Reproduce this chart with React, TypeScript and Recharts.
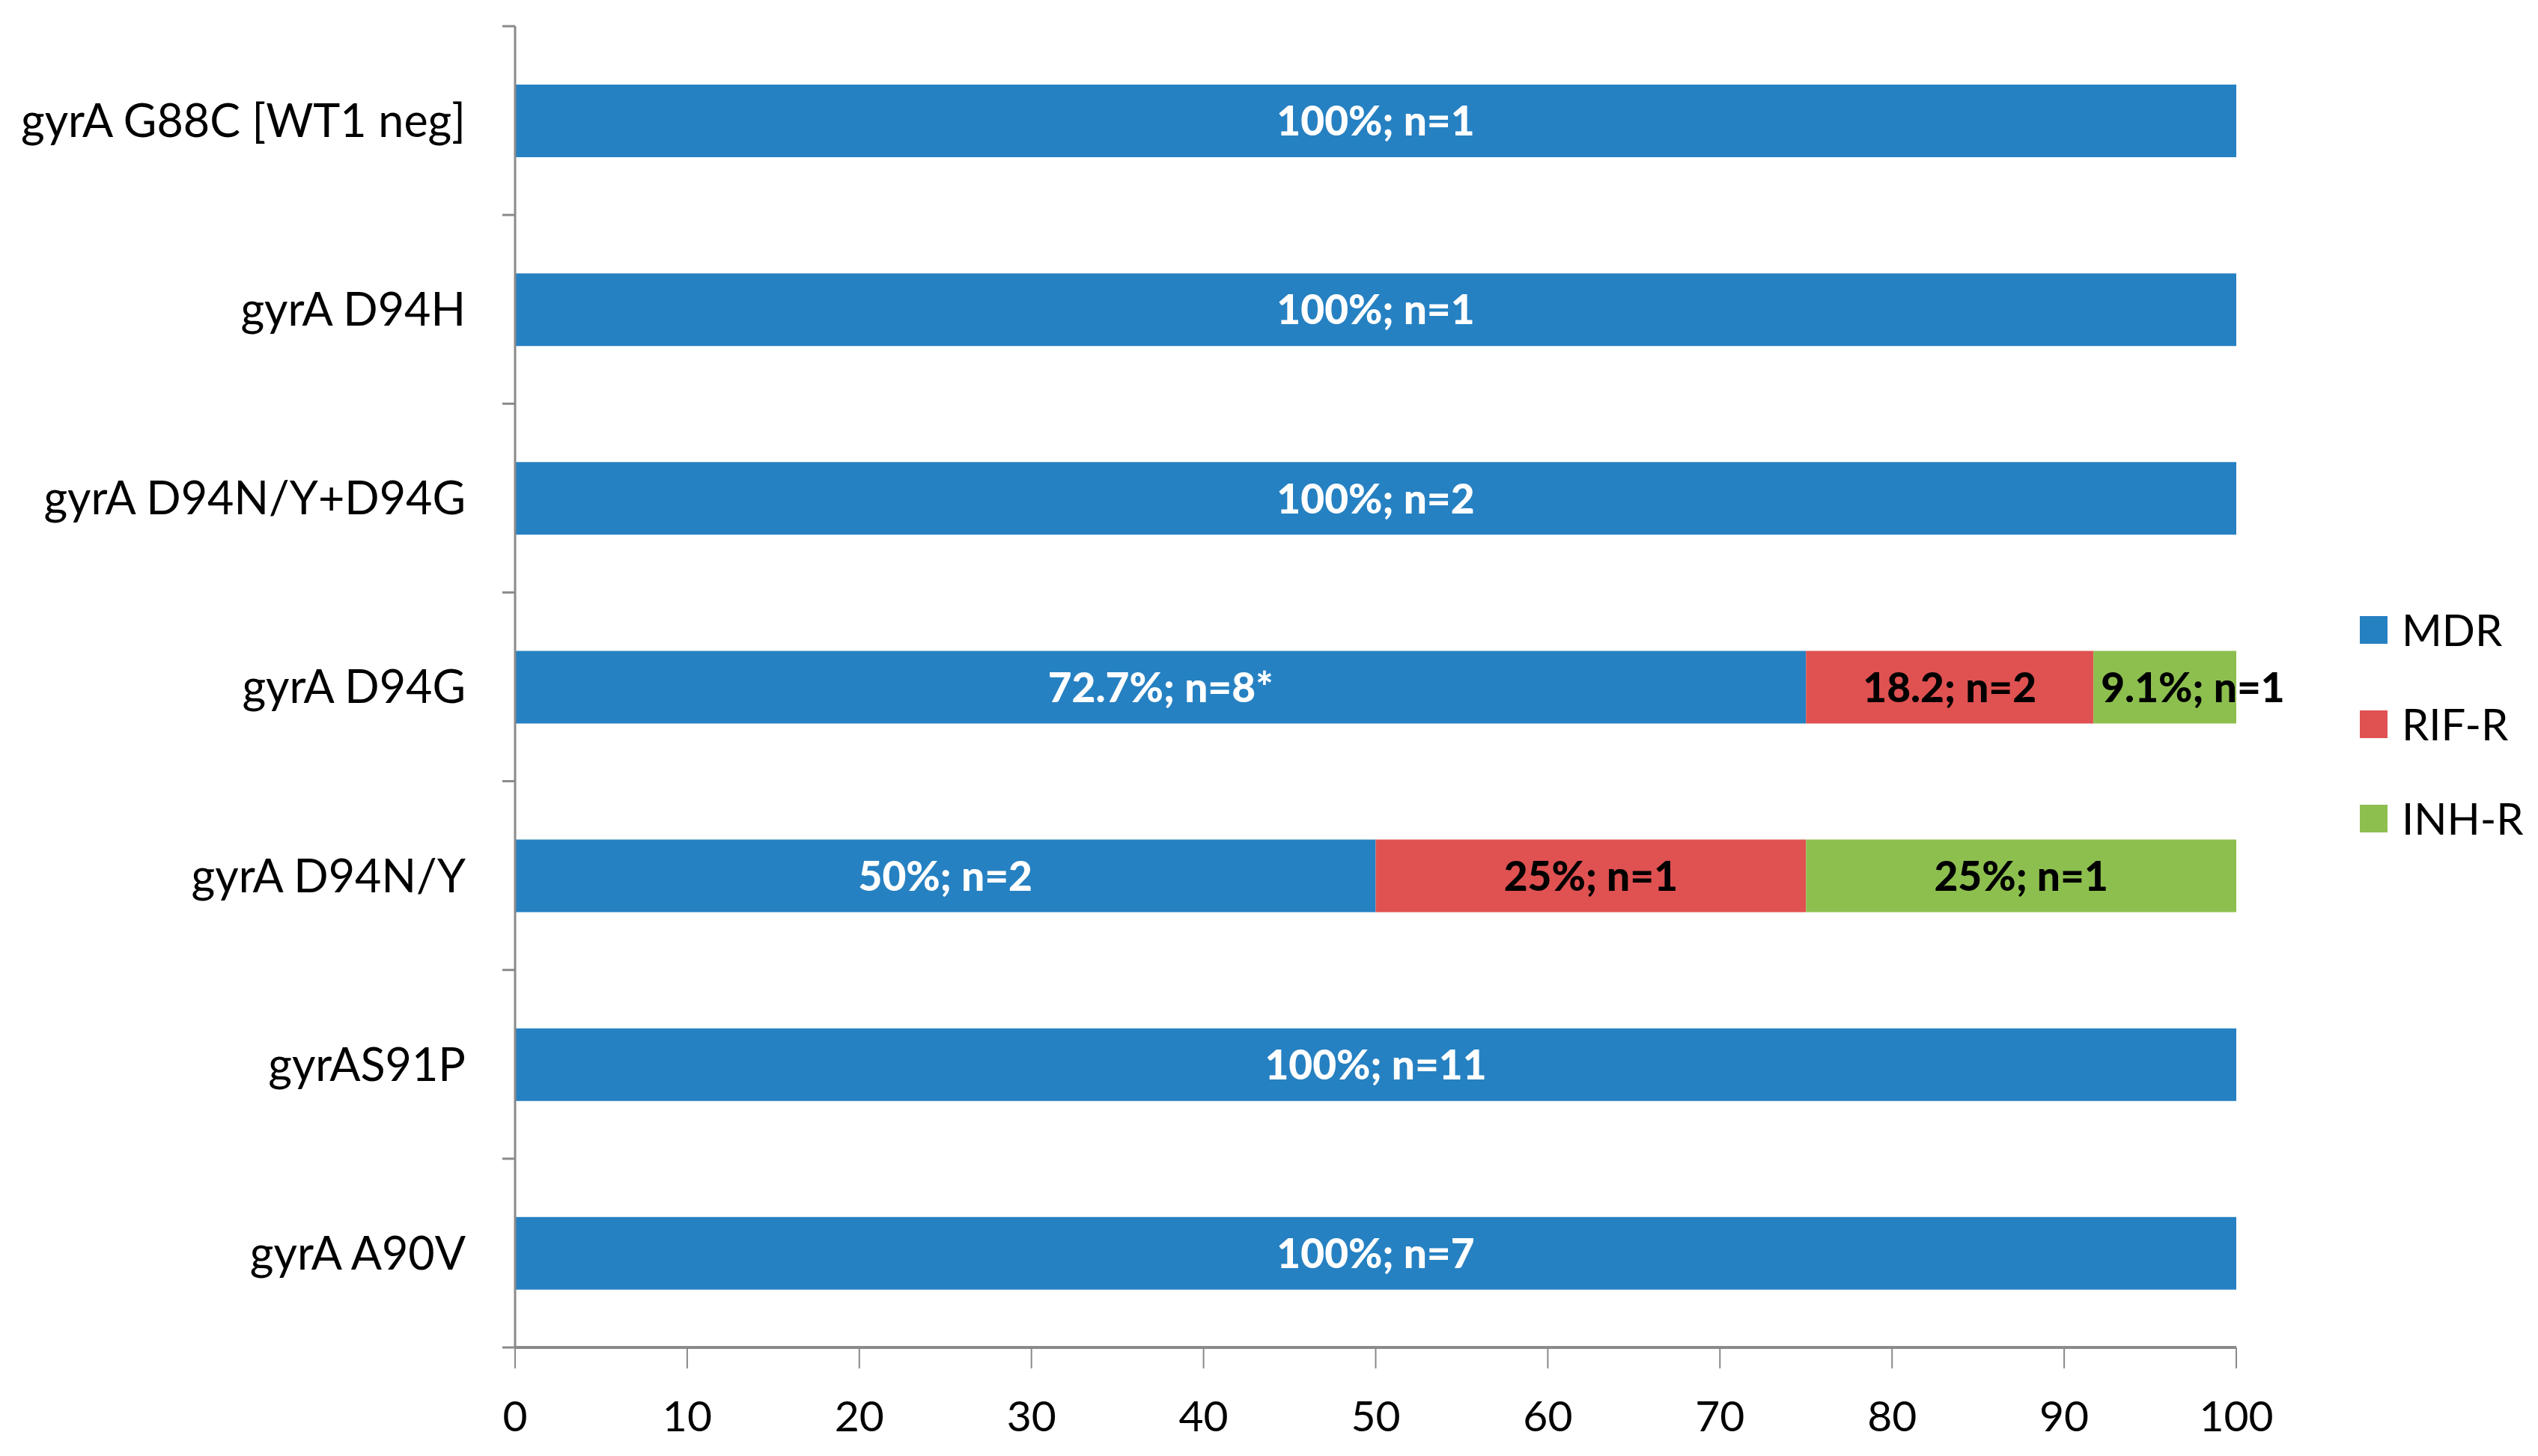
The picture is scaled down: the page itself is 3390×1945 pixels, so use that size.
import React from 'react';
import { Bar, BarChart, LabelList, Legend, XAxis, YAxis } from 'recharts';

const categories = [
  'gyrA G88C [WT1 neg]',
  'gyrA D94H',
  'gyrA D94N/Y+D94G',
  'gyrA D94G',
  'gyrA D94N/Y',
  'gyrAS91P',
  'gyrA A90V',
];
const mdrValues = [100, 100, 100, 75, 50, 100, 100];
const rifValues = [0, 0, 0, 16.7, 25, 0, 0];
const inhValues = [0, 0, 0, 8.3, 25, 0, 0];
const mdrLabels = ['100%; n=1', '100%; n=1', '100%; n=2', '72.7%; n=8*', '50%; n=2', '100%; n=11', '100%; n=7'];
const rifLabels = ['', '', '', '18.2; n=2', '25%; n=1', '', ''];
const inhLabels = ['', '', '', '9.1%; n=1', '25%; n=1', '', ''];
const xTicks = [0, 10, 20, 30, 40, 50, 60, 70, 80, 90, 100];
const seriesNames = ['MDR', 'RIF-R', 'INH-R'];

const COLORS = ['#2681C2', '#E05151', '#8DBF4F'];
const FONT = "Lato, 'Open Sans', sans-serif";
const AXIS_GREY = '#8a8a8a';

const W = 3390;
const H = 1945;
const MARGIN_TOP = 35;
const X_AXIS_H = 145;
const Y_AXIS_W = 688;
const LEGEND_W = 403;
const PLOT_H = H - MARGIN_TOP - X_AXIS_H;
const BAND = PLOT_H / categories.length;
const LABEL_FS = 55;

const data = categories.map((name, i) => ({
  name,
  mdr: mdrValues[i],
  rif: rifValues[i],
  inh: inhValues[i],
  mdrLabel: mdrLabels[i],
  rifLabel: rifLabels[i],
  inhLabel: inhLabels[i],
}));

// centred like Excel, but a label wider than its segment starts at the segment's left edge
const makeLabel = (color: string) => (props: any) => {
  const { x, y, width, height, value } = props;
  if (!value) return null;
  const w = Number(width);
  const tooWide = String(value).length * LABEL_FS * 0.5 > w;
  return (
    <text
      x={tooWide ? Number(x) + 10 : Number(x) + w / 2}
      y={Number(y) + Number(height) / 2}
      dy="0.36em"
      textAnchor={tooWide ? 'start' : 'middle'}
      fill={color}
      fontFamily={FONT}
      fontWeight={900}
      fontSize={LABEL_FS}
    >
      {value}
    </text>
  );
};

const CategoryTick = (props: any) => {
  const { x, y, payload, index } = props;
  const last = index === categories.length - 1;
  return (
    <g>
      <line x1={x - 17} x2={x} y1={y - BAND / 2} y2={y - BAND / 2} stroke={AXIS_GREY} strokeWidth={3} />
      {last && (
        <line x1={x - 17} x2={x} y1={y + BAND / 2} y2={y + BAND / 2} stroke={AXIS_GREY} strokeWidth={3} />
      )}
      <text x={x - 66} y={y} dy="0.36em" textAnchor="end" fill="#000" fontFamily={FONT} fontSize={61}>
        {payload.value}
      </text>
    </g>
  );
};

const LegendContent = () => (
  <div style={{ width: LEGEND_W, height: 378, paddingLeft: 165, boxSizing: 'border-box' }}>
    {seriesNames.map((n, i) => (
      <div key={n} style={{ height: 126, display: 'flex', alignItems: 'center' }}>
        <div style={{ width: 37, height: 37, background: COLORS[i], marginRight: 19 }} />
        <span style={{ fontFamily: FONT, fontSize: 58, color: '#000', lineHeight: 1 }}>{n}</span>
      </div>
    ))}
  </div>
);

const App: React.FC = () => {
  return (
    <div style={{ position: 'absolute', left: 0, top: 0, background: '#fff' }}>
      <BarChart
        width={W}
        height={H}
        data={data}
        layout="vertical"
        margin={{ top: MARGIN_TOP, right: 0, left: 0, bottom: 0 }}
      >
        <XAxis
          type="number"
          domain={[0, 100]}
          ticks={xTicks}
          height={X_AXIS_H}
          axisLine={{ stroke: AXIS_GREY, strokeWidth: 4 }}
          tickLine={{ stroke: AXIS_GREY, strokeWidth: 2 }}
          tickSize={28}
          tickMargin={44}
          tick={{ fill: '#000', fontFamily: FONT, fontSize: 57 }}
        />
        <YAxis
          type="category"
          dataKey="name"
          width={Y_AXIS_W}
          axisLine={{ stroke: AXIS_GREY, strokeWidth: 3 }}
          tickLine={false}
          tickSize={0}
          tickMargin={0}
          tick={<CategoryTick />}
          interval={0}
        />
        <Legend
          layout="vertical"
          align="right"
          verticalAlign="middle"
          content={<LegendContent />}
          wrapperStyle={{ top: 778 }}
        />
        <Bar dataKey="mdr" name={seriesNames[0]} stackId="a" fill={COLORS[0]} barSize={97} isAnimationActive={false}>
          <LabelList dataKey="mdrLabel" content={makeLabel('#fff')} />
        </Bar>
        <Bar dataKey="rif" name={seriesNames[1]} stackId="a" fill={COLORS[1]} barSize={97} isAnimationActive={false}>
          <LabelList dataKey="rifLabel" content={makeLabel('#000')} />
        </Bar>
        <Bar dataKey="inh" name={seriesNames[2]} stackId="a" fill={COLORS[2]} barSize={97} isAnimationActive={false}>
          <LabelList dataKey="inhLabel" content={makeLabel('#000')} />
        </Bar>
      </BarChart>
    </div>
  );
};

export default App;
